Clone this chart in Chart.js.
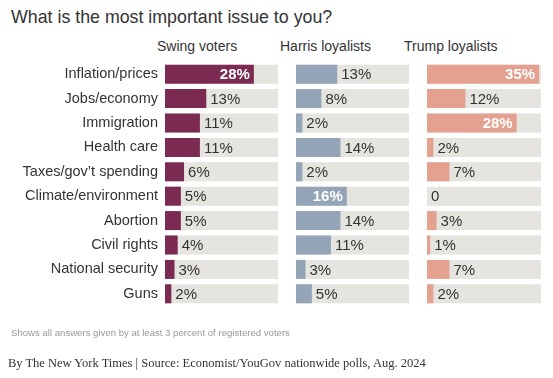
<!DOCTYPE html>
<html>
<head>
<meta charset="utf-8">
<script src="https://cdn.jsdelivr.net/npm/chart.js@4"></script>
<style>
  body { margin: 0; background: #fff; }
  #wrap { position: relative; width: 553px; height: 378px; font-family: "Liberation Sans", Arial, sans-serif; color: #333; }
  #wrap canvas { position: absolute; top: 0; }
  .txt { position: absolute; white-space: nowrap; }
  #title { left: 11px; top: 7px; font-size: 17.8px; color: #333; }
  .head { top: 38px; font-size: 14px; color: #333; }
  #note { left: 11px; top: 327px; font-size: 9.6px; color: #999; }
  #credit { left: 8px; top: 356px; font-size: 12.5px; font-family: "Liberation Serif", "DejaVu Serif", serif; color: #333; }
</style>
</head>
<body>
<div id="wrap">
  <div class="txt" id="title">What is the most important issue to you?</div>
  <div class="txt head" style="left:157px">Swing voters</div>
  <div class="txt head" style="left:280px">Harris loyalists</div>
  <div class="txt head" style="left:404px">Trump loyalists</div>
  <canvas id="swingChart" style="left:0px" width="280" height="378"></canvas>
  <canvas id="harrisChart" style="left:296px" width="113" height="378"></canvas>
  <canvas id="trumpChart" style="left:427px" width="114" height="378"></canvas>
  <div class="txt" id="note">Shows all answers given by at least 3 percent of registered voters</div>
  <div class="txt" id="credit">By The New York Times | Source: Economist/YouGov nationwide polls, Aug. 2024</div>
</div>
<script>
const categories = ['Inflation/prices', 'Jobs/economy', 'Immigration', 'Health care', 'Taxes/gov\u2019t spending',
  'Climate/environment', 'Abortion', 'Civil rights', 'National security', 'Guns'];
const swingValues = [28, 13, 11, 11, 6, 5, 5, 4, 3, 2];
const harrisValues = [13, 8, 2, 14, 2, 16, 14, 11, 3, 5];
const trumpValues = [35, 12, 28, 2, 7, 0, 3, 1, 7, 2];

const SCALE_MAX = 35.6;
const INSIDE_MIN = 15;

// draws the value text at the end of each bar
const valueLabels = {
  id: 'valueLabels',
  afterDatasetsDraw(chart) {
    const ctx = chart.ctx;
    const meta = chart.getDatasetMeta(0);
    const values = chart.data.datasets[0].data;
    ctx.save();
    ctx.textBaseline = 'middle';
    meta.data.forEach((bar, i) => {
      const v = values[i];
      const txt = v === 0 ? '0' : v + '%';
      if (v >= INSIDE_MIN) {
        ctx.font = 'bold 15px "Liberation Sans", Arial, sans-serif';
        ctx.fillStyle = '#fff';
        ctx.textAlign = 'right';
        ctx.fillText(txt, bar.x - 4, bar.y + 1);
      } else {
        ctx.font = '15px "Liberation Sans", Arial, sans-serif';
        ctx.fillStyle = '#333';
        ctx.textAlign = 'left';
        ctx.fillText(txt, bar.x + 4, bar.y + 1);
      }
    });
    ctx.restore();
  }
};

function makePanel(id, values, color, showLabels) {
  const ctx = document.getElementById(id).getContext('2d');
  return new Chart(ctx, {
    type: 'bar',
    data: {
      labels: categories,
      datasets: [{
        data: values,
        backgroundColor: color,
        grouped: false,
        barPercentage: 1,
        categoryPercentage: 0.78
      }, {
        data: categories.map(() => SCALE_MAX),
        backgroundColor: '#e5e4df',
        grouped: false,
        barPercentage: 1,
        categoryPercentage: 0.78
      }]
    },
    options: {
      indexAxis: 'y',
      responsive: false,
      animation: false,
      layout: { padding: { top: 62, bottom: 72, left: 0, right: showLabels ? 2 : 0 } },
      scales: {
        x: { display: false, min: 0, max: SCALE_MAX },
        y: {
          display: showLabels,
          grid: { display: false, drawTicks: false },
          border: { display: false },
          ticks: {
            color: '#333',
            padding: 7,
            font: { size: 14.5, family: '"Liberation Sans", Arial, sans-serif' }
          },
          afterFit(axis) { if (showLabels) axis.width = 165; }
        }
      },
      plugins: {
        legend: { display: false },
        tooltip: { enabled: false }
      }
    },
    plugins: [valueLabels]
  });
}

makePanel('swingChart', swingValues, '#7b2b51', true);
makePanel('harrisChart', harrisValues, '#93a5b7', false);
makePanel('trumpChart', trumpValues, '#e5a18f', false);
</script>
</body>
</html>
